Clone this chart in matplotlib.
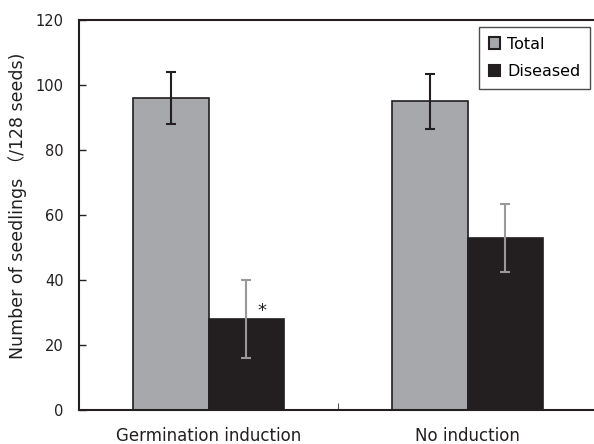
import matplotlib
matplotlib.use("Agg")
import matplotlib.pyplot as plt
import numpy as np
from matplotlib.patches import Patch

plt.rcParams['font.family'] = ['DejaVu Sans', 'Noto Sans CJK JP']

categories = ["Germination induction", "No induction"]
total = [96, 95]
total_err = [8, 8.5]
diseased = [28, 53]
diseased_err = [12, 10.5]
yticks = [0, 20, 40, 60, 80, 100, 120]

fig = plt.figure(figsize=(5.94, 4.44), dpi=100)
ax = fig.add_axes([79/594, 34/444, 518/594, 390/444])

x = np.arange(len(categories))
w = 0.29
ax.bar(x - w/2, total, w, color="#a7a8ab", edgecolor="#231f20", linewidth=1.2, label="Total", zorder=2)
ax.bar(x + w/2, diseased, w, color="#231f20", edgecolor="#231f20", linewidth=1.2, label="Diseased", zorder=2)
ax.errorbar(x - w/2, total, yerr=total_err, fmt="none", ecolor="#231f20", elinewidth=1.5, capsize=3.8, capthick=1.5, zorder=3)
ax.errorbar(x + w/2, diseased, yerr=diseased_err, fmt="none", ecolor="#999999", elinewidth=1.5, capsize=3.8, capthick=1.5, zorder=3)

ax.text(0 + 0.208, 30.5, "*", ha="center", va="center", fontsize=13, color="#231f20")

ax.set_xlim(-0.5, 1.5)
ax.set_ylim(0, 120)
ax.set_yticks(yticks)
ax.tick_params(axis="y", direction="in", length=5, width=1, labelsize=10.5, pad=11, colors="#231f20")
ax.set_xticks([0.5])
ax.set_xticklabels([""])
ax.tick_params(axis="x", direction="in", length=5, width=0.8, colors="#555555")
for i, c in enumerate(categories):
    ax.text(x[i], -0.0667, c, transform=ax.get_xaxis_transform(), ha="center", va="center", fontsize=12, color="#231f20")

fig.text(18/594, 1 - 206/444, "Number of seedlings （/128 seeds)", rotation=90, ha="center", va="center",
         fontsize=12.5, color="#231f20")
for s in ["left", "top", "bottom"]:
    ax.spines[s].set_linewidth(1.5)
    ax.spines[s].set_color("#231f20")
ax.spines["right"].set_visible(False)

handles = [Patch(facecolor="#a7a8ab", edgecolor="#231f20", linewidth=1.5, label="Total"),
           Patch(facecolor="#231f20", edgecolor="#231f20", linewidth=1.5, label="Diseased")]
leg = ax.legend(handles=handles, loc="upper right", bbox_to_anchor=(590/594, (444-27)/444), bbox_transform=fig.transFigure,
                fancybox=False, frameon=True, edgecolor="#231f20", fontsize=11.5,
                handlelength=0.7, handleheight=0.7, handletextpad=0.45, borderpad=0.6, labelspacing=0.8, borderaxespad=0)
leg.get_frame().set_linewidth(1.0)

fig.savefig("out.png", dpi=100)
